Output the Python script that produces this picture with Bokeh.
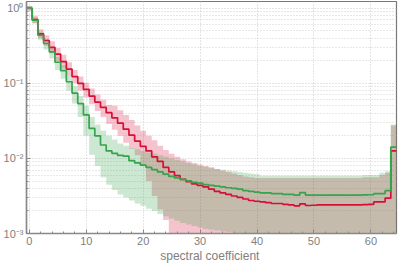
import numpy as np
from bokeh.plotting import figure
from bokeh.models import FixedTicker, SingleIntervalTicker, Range1d
from bokeh.embed import file_html
from bokeh.resources import INLINE

coef = list(range(65))

red_mean = [1.0, 0.708, 0.457, 0.372, 0.302, 0.245, 0.195, 0.155, 0.123, 0.100,
            0.0832, 0.0676, 0.0562, 0.0479, 0.0407, 0.0347, 0.0295, 0.0245, 0.0204, 0.0170,
            0.0145, 0.0126, 0.0105, 0.00912, 0.00759, 0.00661, 0.00589, 0.00525, 0.00490, 0.00457,
            0.00437, 0.00417, 0.00389, 0.00363, 0.00347, 0.00331, 0.00316, 0.00302, 0.00288, 0.00275,
            0.00269, 0.00263, 0.00257, 0.00251, 0.00251, 0.00245, 0.00240, 0.00234, 0.00248, 0.00236,
            0.00238, 0.00240, 0.00240, 0.00240, 0.00240, 0.00240, 0.00240, 0.00240, 0.00240, 0.00242,
            0.00245, 0.00263, 0.00263, 0.00295, 0.0126]

red_upper = [1.07, 0.794, 0.525, 0.437, 0.363, 0.295, 0.240, 0.191, 0.151, 0.123,
             0.102, 0.0851, 0.0708, 0.0603, 0.0513, 0.0501, 0.0437, 0.0380, 0.0324, 0.0275,
             0.0234, 0.0200, 0.0174, 0.0148, 0.0129, 0.0115, 0.0105, 0.00977, 0.00912, 0.00871,
             0.00832, 0.00794, 0.00759, 0.00724, 0.00692, 0.00661, 0.00631, 0.00603, 0.00575, 0.00562,
             0.0055, 0.0055, 0.0055, 0.0055, 0.0055, 0.0055, 0.0055, 0.0055, 0.0055, 0.0055,
             0.0055, 0.0055, 0.0055, 0.0055, 0.0055, 0.0055, 0.0055, 0.0055, 0.0055, 0.00562,
             0.00562, 0.00562, 0.00603, 0.00646, 0.0275]

red_lower = [0.933, 0.631, 0.398, 0.316, 0.251, 0.200, 0.158, 0.126, 0.100, 0.0794,
             0.0646, 0.0525, 0.0427, 0.0355, 0.0288, 0.0240, 0.0200, 0.0162, 0.0135, 0.0110,
             0.00794, 0.00501, 0.00316, 0.00209, 0.00151, 0.0005, 0.0005, 0.0005, 0.0005, 0.0005,
             0.0005, 0.0005, 0.0005, 0.0005, 0.0005, 0.0005, 0.0005, 0.0005, 0.0005, 0.0005,
             0.0005, 0.0005, 0.0005, 0.0005, 0.0005, 0.0005, 0.0005, 0.0005, 0.0005, 0.0005,
             0.0005, 0.0005, 0.0005, 0.0005, 0.0005, 0.0005, 0.0005, 0.0005, 0.0005, 0.0005,
             0.0005, 0.0005, 0.0005, 0.0005, 0.0005]

green_mean = [1.0, 0.692, 0.437, 0.339, 0.263, 0.191, 0.148, 0.105, 0.0741, 0.0537,
              0.0380, 0.0251, 0.0200, 0.0151, 0.0126, 0.0117, 0.0110, 0.0107, 0.00933, 0.00871,
              0.00813, 0.00759, 0.00708, 0.00661, 0.00617, 0.00575, 0.00550, 0.00525, 0.00501, 0.00479,
              0.00468, 0.00447, 0.00437, 0.00427, 0.00417, 0.00407, 0.00398, 0.00389, 0.00372, 0.00363,
              0.00355, 0.00347, 0.00347, 0.00339, 0.00339, 0.00331, 0.00331, 0.00324, 0.00351, 0.00324,
              0.00324, 0.00324, 0.00324, 0.00324, 0.00324, 0.00324, 0.00324, 0.00324, 0.00324, 0.00326,
              0.00328, 0.00339, 0.00339, 0.00372, 0.0141]

green_upper = [1.07, 0.759, 0.490, 0.389, 0.302, 0.224, 0.174, 0.126, 0.0912, 0.0676,
               0.0501, 0.0355, 0.0282, 0.0234, 0.0200, 0.0178, 0.0158, 0.0148, 0.0138, 0.0132,
               0.0126, 0.0120, 0.0115, 0.0110, 0.0105, 0.0100, 0.00955, 0.00912, 0.00871, 0.00832,
               0.00794, 0.00776, 0.00759, 0.00724, 0.00708, 0.00692, 0.00676, 0.00661, 0.00646, 0.00631,
               0.00617, 0.00589, 0.00589, 0.00589, 0.00589, 0.00589, 0.00589, 0.00589, 0.00589, 0.00589,
               0.00589, 0.00589, 0.00589, 0.00589, 0.00589, 0.00589, 0.00589, 0.00589, 0.00589, 0.00603,
               0.00603, 0.00603, 0.00646, 0.00676, 0.0282]

green_lower = [0.933, 0.631, 0.380, 0.282, 0.214, 0.151, 0.115, 0.0794, 0.0537, 0.0355,
               0.0200, 0.0112, 0.00794, 0.00562, 0.00447, 0.00380, 0.00331, 0.00302, 0.00275, 0.00251,
               0.00234, 0.00214, 0.00200, 0.00182, 0.00170, 0.00158, 0.00148, 0.00138, 0.00132, 0.00126,
               0.00120, 0.00115, 0.00112, 0.00110, 0.00107, 0.00105, 0.00102, 0.0005, 0.0005, 0.0005,
               0.0005, 0.0005, 0.0005, 0.0005, 0.0005, 0.0005, 0.0005, 0.0005, 0.0005, 0.0005,
               0.0005, 0.0005, 0.0005, 0.0005, 0.0005, 0.0005, 0.0005, 0.0005, 0.0005, 0.0005,
               0.0005, 0.0005, 0.0005, 0.0005, 0.0005]

y_ticks = [1e-3, 1e-2, 1e-1, 1.0]
y_tick_labels = ["10\u207b\u00b3", "10\u207b\u00b2", "10\u207b\u00b9", "10\u2070"]
x_label = "spectral  coefficient"

RED = "#d70f37"
GREEN = "#37a34b"
GRAY_TXT = "#808080"


def step_xy(vals):
    k = np.asarray(coef, dtype=float)
    xs = np.column_stack([k - 0.5, k + 0.5]).ravel()
    ys = np.repeat(np.asarray(vals, dtype=float), 2)
    return xs, ys


p = figure(width=398, height=265, y_axis_type="log", output_backend="svg",
           toolbar_location=None,
           x_range=Range1d(coef[0] - 0.5, coef[-1] + 0.5),
           y_range=Range1d(1e-3, 1.23),
           min_border_left=0, min_border_right=2, min_border_top=1, min_border_bottom=30)
p.background_fill_color = "white"
p.border_fill_color = "white"
p.outline_line_color = "#777777"
p.outline_line_width = 1.2

xs, lo = step_xy(red_lower)
_, hi = step_xy(red_upper)
p.varea(x=xs, y1=lo, y2=hi, fill_color=RED, fill_alpha=0.25)
xs, lo = step_xy(green_lower)
_, hi = step_xy(green_upper)
p.varea(x=xs, y1=lo, y2=hi, fill_color=GREEN, fill_alpha=0.25)

xs, ys = step_xy(red_mean)
p.line(xs, ys, line_color=RED, line_width=1.7)
xs, ys = step_xy(green_mean)
p.line(xs, ys, line_color=GREEN, line_width=1.7)

minor = [m * d for d in y_ticks[:-1] for m in range(2, 10)]
p.yaxis.ticker = FixedTicker(ticks=y_ticks, minor_ticks=minor)
p.yaxis.major_label_overrides = dict(zip(y_ticks, y_tick_labels))
p.xaxis.ticker = SingleIntervalTicker(interval=10, num_minor_ticks=5)

p.xaxis.axis_label = x_label
p.xaxis.axis_label_text_font = "Liberation Sans"
p.xaxis.axis_label_text_font_style = "normal"
p.xaxis.axis_label_text_font_size = "12px"
p.xaxis.axis_label_text_color = GRAY_TXT
p.xaxis.axis_label_standoff = 1

for ax in (p.xaxis, p.yaxis):
    ax.major_label_text_font = "Liberation Sans"
    ax.major_label_text_font_size = "11px"
    ax.major_label_text_color = GRAY_TXT
    ax.major_label_standoff = 3
    ax.axis_line_color = "#888888"
    ax.axis_line_width = 1.5
    ax.major_tick_in = 4
    ax.major_tick_out = 0
    ax.minor_tick_in = 2
    ax.minor_tick_out = 0
    ax.major_tick_line_color = "#888888"
    ax.minor_tick_line_color = "#888888"

p.xgrid.grid_line_color = "#c8c8c8"
p.xgrid.grid_line_dash = "1 2"
p.ygrid.grid_line_color = "#c8c8c8"
p.ygrid.grid_line_dash = "1 2"
p.ygrid.minor_grid_line_color = "#d0d0d0"
p.ygrid.minor_grid_line_dash = "1 2"

open("out.html", "w").write(file_html(p, INLINE))
